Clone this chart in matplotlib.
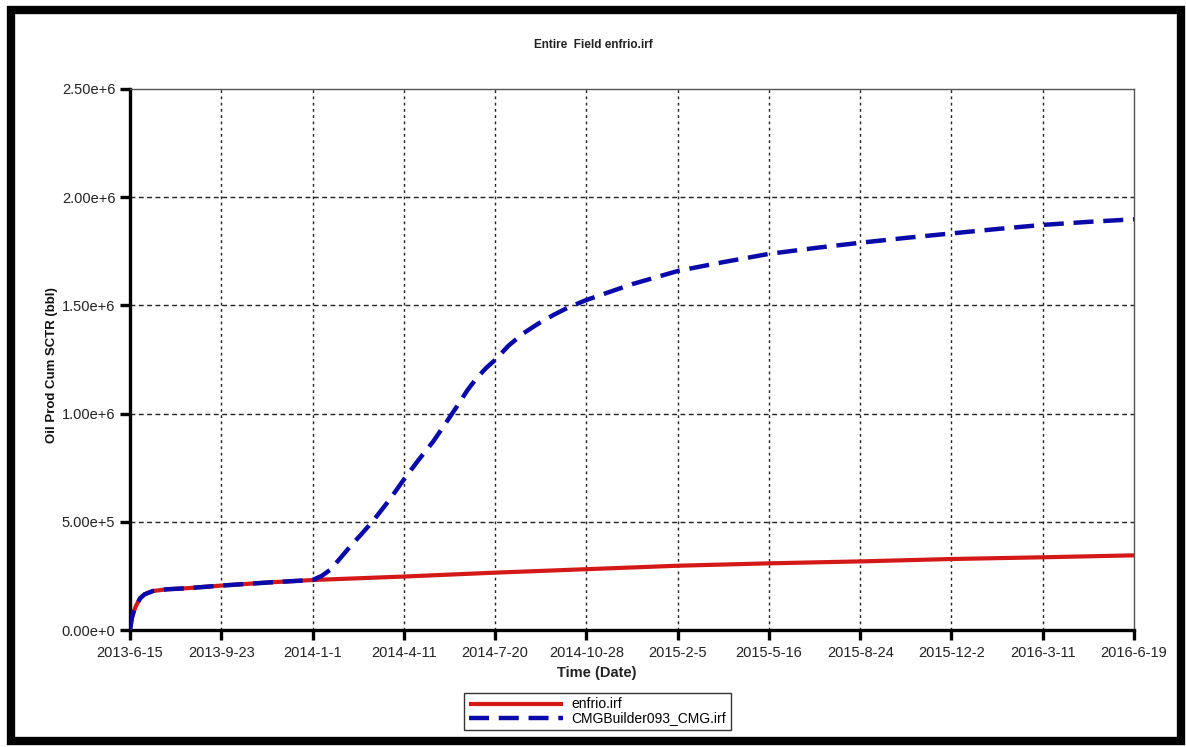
import numpy as np
import pandas as pd
import matplotlib
matplotlib.use("Agg")
import matplotlib.pyplot as plt
from matplotlib.patches import Rectangle

plt.rcParams['font.family'] = ['Liberation Sans', 'DejaVu Sans']

# ---------------- data ----------------
start_date = "2013-06-15"
tick_step_days = 100
x_tick_labels = ["2013-6-15", "2013-9-23", "2014-1-1", "2014-4-11", "2014-7-20",
                 "2014-10-28", "2015-2-5", "2015-5-16", "2015-8-24", "2015-12-2",
                 "2016-3-11", "2016-6-19"]
y_ticks = [0, 5e5, 1e6, 1.5e6, 2e6, 2.5e6]
y_tick_labels = ["0.00e+0", "5.00e+5", "1.00e+6", "1.50e+6", "2.00e+6", "2.50e+6"]

red_days = [0, 2, 4, 7, 11, 16, 25, 40, 62, 99, 153, 200, 300, 400, 500, 600,
            700, 800, 900, 1000, 1100]
red_vals = [0, 55e3, 85e3, 115e3, 146e3, 165e3, 180e3, 188e3, 193e3, 205e3, 220e3,
            231e3, 247e3, 265e3, 281e3, 297e3, 308e3, 317e3, 328e3, 336e3, 345e3]

blue_days = [0, 2, 4, 7, 11, 16, 25, 40, 62, 99, 153, 200, 210, 219, 230, 241, 254,
             267, 284, 301, 316, 332, 345, 358, 370, 380, 390, 400, 415, 431, 447,
             464, 480, 500, 550, 601, 650, 700, 750, 801, 850, 901, 950, 1000,
             1050, 1100]
blue_vals = [0, 55e3, 85e3, 115e3, 146e3, 165e3, 180e3, 188e3, 193e3, 205e3, 220e3,
             231e3, 250e3, 277e3, 330e3, 385e3, 445e3, 508e3, 600e3, 701e3, 785e3,
             870e3, 950e3, 1032e3, 1110e3, 1165e3, 1210e3, 1248e3, 1315e3, 1371e3,
             1415e3, 1456e3, 1490e3, 1525e3, 1598e3, 1660e3, 1700e3, 1738e3,
             1765e3, 1790e3, 1812e3, 1833e3, 1853e3, 1872e3, 1886e3, 1898e3]

series_labels = ["enfrio.irf", "CMGBuilder093_CMG.irf"]
title = "Entire  Field enfrio.irf"
x_label = "Time (Date)"
y_label = "Oil Prod Cum SCTR (bbl)"

# ---------------- figure ----------------
W, H = 1186, 747
fig = plt.figure(figsize=(W / 100, H / 100), dpi=100)
fig.patch.set_facecolor("white")

# outer thick frame
fig.patches.append(Rectangle((11 / W, 1 - 741 / H), (1180.5 - 11) / W, (741 - 9.5) / H,
                             transform=fig.transFigure, fill=False,
                             edgecolor="black", linewidth=6, zorder=10))

L, R, T, B = 130, 1134, 89, 630
ax = fig.add_axes([L / W, 1 - B / H, (R - L) / W, (B - T) / H])

t0 = pd.Timestamp(start_date)
red_x = [t0 + pd.Timedelta(days=d) for d in red_days]
blue_x = [t0 + pd.Timedelta(days=d) for d in blue_days]
tick_x = [t0 + pd.Timedelta(days=tick_step_days * i) for i in range(len(x_tick_labels))]

ax.plot(red_x, red_vals, color="#d41818", linewidth=3.0, solid_capstyle="butt",
        label=series_labels[0], zorder=3)
ax.plot(blue_x, blue_vals, color="#0a0aaa", linewidth=3.2, linestyle=(0, (4.5, 2.2)),
        label=series_labels[1], zorder=4)

ax.set_xlim(tick_x[0], tick_x[-1])
ax.set_ylim(y_ticks[0], y_ticks[-1])
ax.set_xticks(tick_x)
ax.set_xticklabels(x_tick_labels)
ax.set_yticks(y_ticks)
ax.set_yticklabels(y_tick_labels)

ax.tick_params(axis="both", direction="out", length=7.5, width=2.4, color="black",
               labelsize=10.5, labelcolor="#222222")
ax.tick_params(axis="x", pad=4)
ax.tick_params(axis="y", pad=3)

# grid
for xv in tick_x[1:-1]:
    ax.axvline(xv, color="#222222", linewidth=1.0, linestyle=(0, (2, 2.5)), zorder=1)
for yv in y_ticks[1:-1]:
    ax.axhline(yv, color="#222222", linewidth=1.0, linestyle=(0, (3.5, 2.5)), zorder=1)

for s in ["left", "bottom"]:
    ax.spines[s].set_linewidth(2.4)
    ax.spines[s].set_color("black")
for s in ["top", "right"]:
    ax.spines[s].set_linewidth(1.0)
    ax.spines[s].set_color("#555555")

ax.set_xlabel(x_label, fontsize=10.5, fontweight="bold", color="#222222")
ax.xaxis.set_label_coords((597 - L) / (R - L), -(666 - B) / (B - T))
ax.xaxis.label.set_verticalalignment("top")
ax.set_ylabel(y_label, fontsize=9.5, fontweight="bold", color="#111111")
ax.yaxis.set_label_coords((58 - L) / (R - L), 0.49)

fig.text(0.5, 1 - 45 / H, title, ha="center", va="center", fontsize=8.5,
         fontweight="bold", color="#222222")

leg = fig.legend(loc="center", bbox_to_anchor=((452 + 743) / 2 / W, 1 - 711.5 / H),
                 fontsize=10, frameon=True, fancybox=False, shadow=False,
                 handlelength=6.8, handletextpad=0.6, labelspacing=0.0,
                 borderpad=0.35, borderaxespad=0)
leg.get_frame().set_edgecolor("black")
leg.get_frame().set_linewidth(1.0)

fig.savefig("out.png", dpi=100)
